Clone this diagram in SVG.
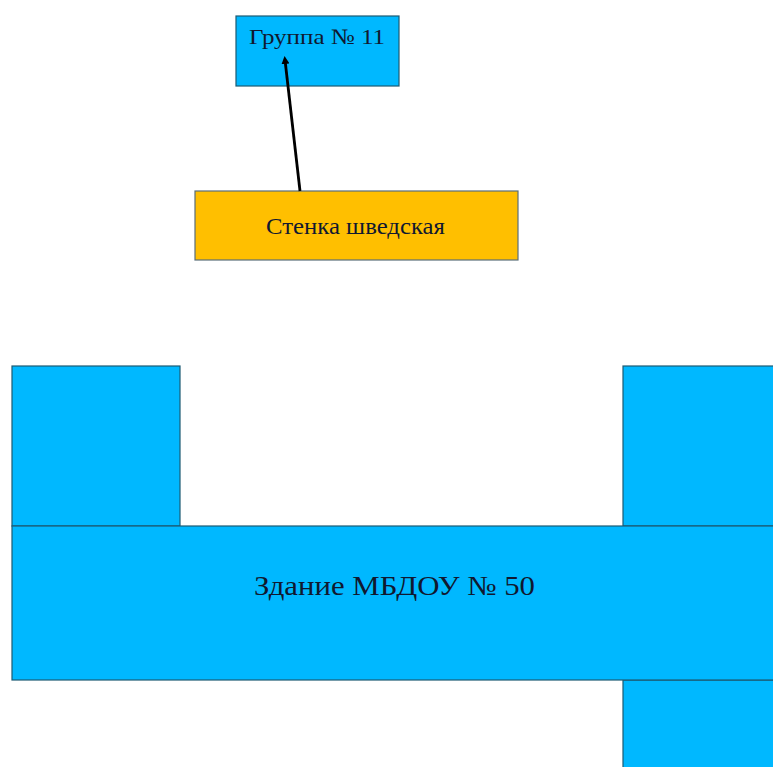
<svg xmlns="http://www.w3.org/2000/svg" width="773" height="767" viewBox="0 0 773 767">
<style>
.blue{fill:#00B8FF;stroke:#1C5A73;stroke-width:1.2}
.orange{fill:#FFBF00;stroke:#5A6E78;stroke-width:1.2}
.t{font-family:"Liberation Serif","DejaVu Serif",serif;fill:#101830;text-anchor:middle}
</style>
<defs>
<marker id="ah" markerWidth="8" markerHeight="8" refX="4" refY="4" orient="auto" markerUnits="userSpaceOnUse">
<path d="M0,0 L8,4 L0,8 Z" fill="#000"/>
</marker>
</defs>
<rect width="773" height="767" fill="#fff"/>
<g id="building">
<rect class="blue" x="12" y="366" width="168" height="160"/>
<rect class="blue" x="623" y="366" width="152" height="160"/>
<rect class="blue" x="623" y="680" width="152" height="90"/>
<rect class="blue" x="12" y="526" width="763" height="154"/>
<text class="t" x="394.5" y="595" font-size="28" textLength="281" lengthAdjust="spacingAndGlyphs">Здание МБДОУ № 50</text>
</g>
<g id="group11">
<rect class="blue" x="236" y="16" width="163" height="70"/>
<text class="t" x="317" y="44" font-size="22" textLength="136" lengthAdjust="spacingAndGlyphs">Группа № 11</text>
</g>
<g id="wall">
<rect class="orange" x="195" y="191" width="323" height="69"/>
<text class="t" x="355.5" y="234" font-size="23" textLength="179" lengthAdjust="spacingAndGlyphs">Стенка шведская</text>
</g>
<g id="connectors">
<line x1="300" y1="191" x2="285" y2="60" stroke="#000" stroke-width="2.8" marker-end="url(#ah)"/>
</g>
</svg>
